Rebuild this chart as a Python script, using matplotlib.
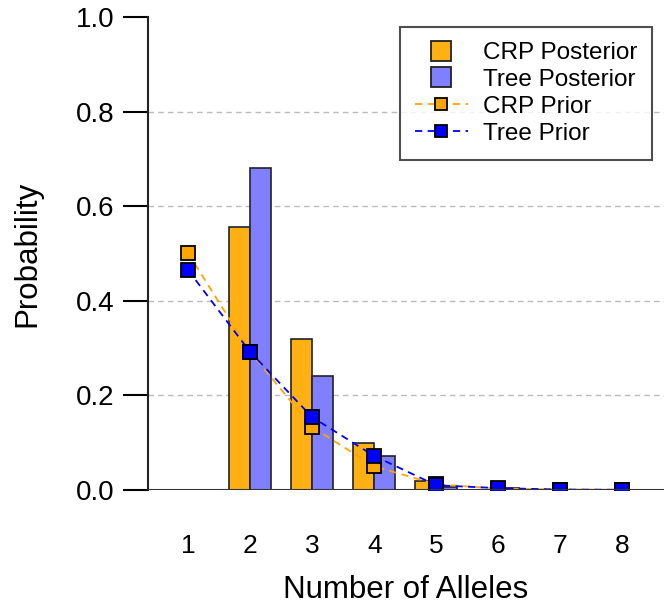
import numpy as np
import matplotlib.pyplot as plt
from matplotlib.lines import Line2D

plt.rcParams['font.family'] = ['Liberation Sans', 'DejaVu Sans']

# number of alleles and probabilities
alleles = [1, 2, 3, 4, 5, 6, 7, 8]
crp_posterior = [0.0, 0.556, 0.319, 0.099, 0.019, 0.001, 0.0, 0.0]
tree_posterior = [0.0, 0.681, 0.241, 0.072, 0.006, 0.004, 0.0, 0.0]
crp_prior = [0.501, 0.292, 0.133, 0.050, 0.012, 0.003, 0.001, 0.0003]
tree_prior = [0.465, 0.292, 0.154, 0.072, 0.010, 0.004, 0.001, 0.0005]

orange = '#FFB012'
lightblue = '#8080FF'
blue = '#0000FF'

fig = plt.figure(figsize=(6.69, 6.10), dpi=100)
ax = fig.add_axes([148 / 669, 120 / 610, 516 / 669, 473 / 610])

x = np.array(alleles)
w = 0.34
ax.bar(x - w / 2, crp_posterior, width=w, color=orange, edgecolor='#222222',
       linewidth=1.2, zorder=2)
ax.bar(x + w / 2, tree_posterior, width=w, color=lightblue, edgecolor='#222222',
       linewidth=1.2, zorder=2)
ax.plot(x, crp_prior, ls=(0, (4, 3)), color='#FFA500', lw=1.3, marker='s',
        markersize=10, markerfacecolor='#FFA500', markeredgecolor='black',
        markeredgewidth=1.3, zorder=3)
ax.plot(x, tree_prior, ls=(0, (4, 3)), color=blue, lw=1.3, marker='s',
        markersize=10, markerfacecolor=blue, markeredgecolor='black',
        markeredgewidth=1.3, zorder=4)

ax.set_xlim(0.355, 8.67)
ax.set_ylim(0, 1.0)
for yv in [0.2, 0.4, 0.6, 0.8]:
    ax.axhline(yv, color='#BBBBBB', ls=(0, (4, 3)), lw=1, zorder=1)
ax.axhline(0, color='#333333', lw=1.5, zorder=5)

for s in ['top', 'right', 'bottom']:
    ax.spines[s].set_visible(False)
ax.spines['left'].set_linewidth(1.5)
ax.spines['left'].set_color('#222222')
ax.set_yticks([0, 0.2, 0.4, 0.6, 0.8, 1.0])
ax.set_yticklabels(['0.0', '0.2', '0.4', '0.6', '0.8', '1.0'])
ax.tick_params(axis='y', length=18, width=1.5, pad=6, labelsize=20)
ax.set_xticks(alleles)
ax.tick_params(axis='x', length=0, pad=32, labelsize=19)

ax.set_xlabel('Number of Alleles', fontsize=22.5, labelpad=12)
ax.set_ylabel('Probability', fontsize=22.5, labelpad=24)

# legend: filled squares for posteriors, dashed line + square for priors
handles = [
    Line2D([], [], ls='none', marker='s', markersize=14, markerfacecolor=orange,
           markeredgecolor='#222222', markeredgewidth=1.3),
    Line2D([], [], ls='none', marker='s', markersize=14, markerfacecolor=lightblue,
           markeredgecolor='#222222', markeredgewidth=1.3),
    Line2D([], [], ls=(0, (4, 3)), color='#FFA500', lw=1.3, marker='s', markersize=9,
           markerfacecolor='#FFA500', markeredgecolor='black', markeredgewidth=1.3),
    Line2D([], [], ls=(0, (4, 3)), color=blue, lw=1.3, marker='s', markersize=9,
           markerfacecolor=blue, markeredgecolor='black', markeredgewidth=1.3),
]
labels = ['CRP Posterior', 'Tree Posterior', 'CRP Prior', 'Tree Prior']
leg = ax.legend(handles, labels, loc='upper right', bbox_to_anchor=(0.977, 0.979),
                borderaxespad=0, fontsize=17.5, frameon=True, fancybox=False,
                edgecolor='#222222', handlelength=2.2, borderpad=0.62,
                labelspacing=0.2, handletextpad=0.6)
leg.get_frame().set_linewidth(1.5)

fig.savefig('out.png', dpi=100)
